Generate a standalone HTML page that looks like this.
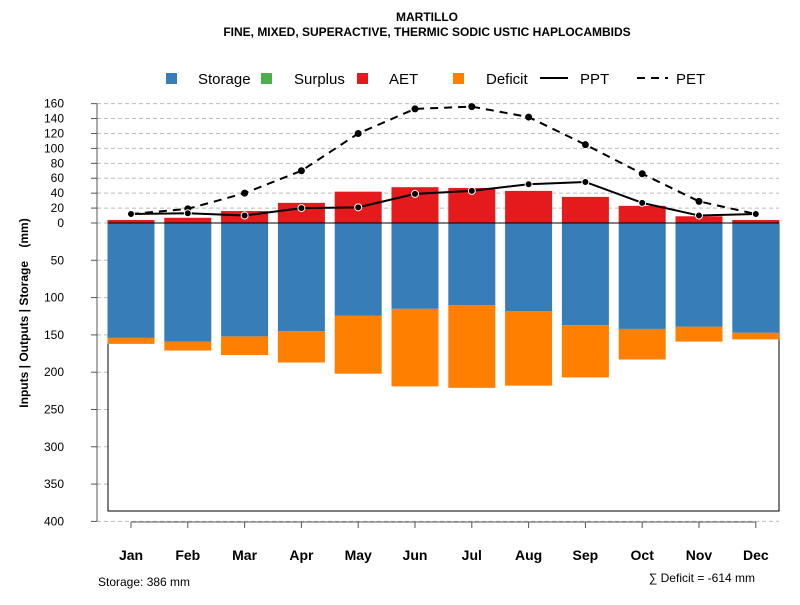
<!DOCTYPE html>
<html><head><meta charset="utf-8"><style>
body{margin:0;background:#fff}
svg text{font-family:"Liberation Sans",sans-serif}
</style></head><body>
<svg id="c" width="800" height="600" xmlns="http://www.w3.org/2000/svg">
<text x="427" y="21" text-anchor="middle" font-size="12" font-weight="bold">MARTILLO</text>
<text x="427" y="36" text-anchor="middle" font-size="12" font-weight="bold">FINE, MIXED, SUPERACTIVE, THERMIC SODIC USTIC HAPLOCAMBIDS</text>
<g>
<rect x="166" y="73" width="11" height="11" fill="#377eb8"/>
<text x="198" y="84" font-size="15">Storage</text>
<rect x="261" y="73" width="11" height="11" fill="#4daf4a"/>
<text x="294" y="84" font-size="15">Surplus</text>
<rect x="357" y="73" width="11" height="11" fill="#e41a1c"/>
<text x="389" y="84" font-size="15">AET</text>
<rect x="453" y="73" width="11" height="11" fill="#ff7f00"/>
<text x="486" y="84" font-size="15">Deficit</text>
<line x1="540" y1="78" x2="568" y2="78" stroke="#000" stroke-width="2"/>
<text x="580" y="84" font-size="15">PPT</text>
<line x1="637" y1="78" x2="668" y2="78" stroke="#000" stroke-width="2" stroke-dasharray="8,6"/>
<text x="676" y="84" font-size="15">PET</text>
</g>
<text transform="translate(28,313) rotate(-90)" text-anchor="middle" font-size="12" font-weight="bold" style="white-space:pre">Inputs | Outputs | Storage    (mm)</text>
<text x="98" y="586" font-size="12">Storage: 386 mm</text>
<text x="755" y="582" text-anchor="end" font-size="12">∑ Deficit = -614 mm</text>
<g id="g"></g>
</svg>
<script>
const months=["Jan","Feb","Mar","Apr","May","Jun","Jul","Aug","Sep","Oct","Nov","Dec"];
const aet=[4,7,16,27,42,48,47,43,35,23,9,4];
const storage=[154,159,152,145,124,115,110,118,137,142,139,147];
const deficit=[8,12,25,42,78,104,111,100,70,41,20,9];
const ppt=[12,13,10,20,21,39,43,52,55,27,10,12];
const pet=[12,19,40,70,120,153,156,142,105,66,29,12];
const upTicks=[0,20,40,60,80,100,120,140,160];
const downTicks=[50,100,150,200,250,300,350,400];
const NS="http://www.w3.org/2000/svg";
const g=document.getElementById('g');
const y0=223,k=0.746;
const yUp=v=>y0-v*k, yDn=v=>y0+v*k;
const xc=i=>131+i*56.8, bw=47;
function mk(t,a){const e=document.createElementNS(NS,t);for(const n in a)e.setAttribute(n,a[n]);g.appendChild(e);return e;}
upTicks.forEach(v=>{
 const l=mk('line',{x1:97,x2:779,y1:yUp(v),y2:yUp(v),stroke:'#bbb','stroke-dasharray':'4,3'});
 
 
 mk('line',{x1:91,x2:97,y1:yUp(v),y2:yUp(v),stroke:'#555'});
 const tx=mk('text',{x:64,y:yUp(v)+4,'text-anchor':'end','font-size':12});tx.textContent=v;
 
 
});
downTicks.forEach(v=>{
 const l=mk('line',{x1:97,x2:779,y1:yDn(v),y2:yDn(v),stroke:'#bbb','stroke-dasharray':'4,3'});
 
 
 mk('line',{x1:91,x2:97,y1:yDn(v),y2:yDn(v),stroke:'#555'});
 const tx=mk('text',{x:64,y:yDn(v)+4,'text-anchor':'end','font-size':12});tx.textContent=v;
 
 
});
mk('line',{x1:97,x2:97,y1:yUp(160),y2:yDn(400),stroke:'#555'});
mk('rect',{x:108,y:y0,width:671,height:288,fill:'#fff',stroke:'#000'});
months.forEach((m,i)=>{
 const x=xc(i)-bw/2;
 const d=mk('rect',{x:x,y:yDn(storage[i]),width:bw,height:deficit[i]*k,fill:'#ff7f00'});
 
 
 const s=mk('rect',{x:x,y:y0,width:bw,height:storage[i]*k,fill:'#377eb8'});
 
 
 const a=mk('rect',{x:x,y:yUp(aet[i]),width:bw,height:aet[i]*k,fill:'#e41a1c'});
 
 
 mk('line',{x1:xc(i),x2:xc(i),y1:522,y2:528,stroke:'#555'});
 const tx=mk('text',{x:xc(i),y:560,'text-anchor':'middle','font-size':14,'font-weight':'bold'});tx.textContent=m;
 
 
});
mk('line',{x1:108,x2:779,y1:y0,y2:y0,stroke:'#000'});
mk('line',{x1:131,x2:xc(11),y1:522,y2:522,stroke:'#555'});
function series(vals,dash,name,stroke,r){
 const p=mk('polyline',{points:vals.map((v,i)=>xc(i)+','+yUp(v)).join(' '),fill:'none',stroke:'#000','stroke-width':2,'stroke-dasharray':dash});
 
 
 vals.forEach((v,i)=>{const c=mk('circle',{cx:xc(i),cy:yUp(v),r:r,fill:'#000',stroke:stroke,'stroke-width':1});
 
 });
}
series(pet,'8,6','pet','#000',3);
series(ppt,'none','ppt','#fff',3.5);
</script>
</body></html>
